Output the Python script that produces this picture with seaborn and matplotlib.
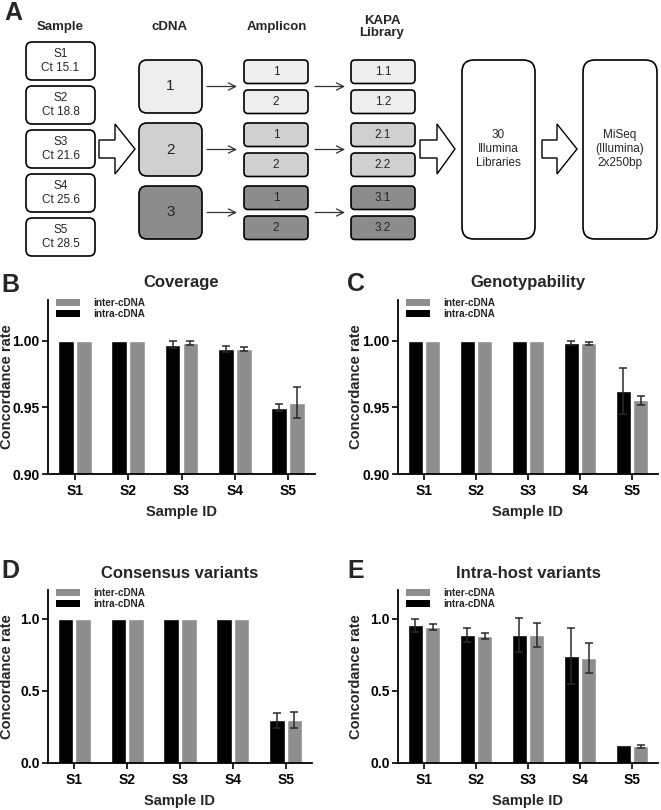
import matplotlib
matplotlib.use("Agg")
import matplotlib.pyplot as plt
from matplotlib.patches import FancyBboxPatch, Polygon, Patch
import numpy as np
import pandas as pd
import seaborn as sns

# ---------------------------------------------------------------- data
samples = ["S1", "S2", "S3", "S4", "S5"]
groups = ["intra-cDNA", "inter-cDNA"]

cov_intra = [1.000, 1.000, 0.997, 0.9937, 0.9497]
cov_intra_err = [0, 0, 0.0025, 0.002, 0.0025]
cov_inter = [1.000, 1.000, 0.998, 0.994, 0.9535]
cov_inter_err = [0, 0, 0.0015, 0.0015, 0.0115]

geno_intra = [1.000, 1.000, 1.000, 0.998, 0.9624]
geno_intra_err = [0, 0, 0, 0.0015, 0.017]
geno_inter = [1.000, 1.000, 1.000, 0.998, 0.9553]
geno_inter_err = [0, 0, 0, 0.0012, 0.0035]

cons_intra = [1.0, 1.0, 1.0, 1.0, 0.296]
cons_intra_err = [0, 0, 0, 0, 0.05]
cons_inter = [1.0, 1.0, 1.0, 1.0, 0.300]
cons_inter_err = [0, 0, 0, 0, 0.055]

host_intra = [0.956, 0.887, 0.889, 0.744, 0.124]
host_intra_err = [0.044, 0.047, 0.118, 0.194, 0]
host_inter = [0.943, 0.880, 0.890, 0.730, 0.115]
host_inter_err = [0.020, 0.023, 0.083, 0.104, 0.012]

# schematic text
ct_values = ["15.1", "18.8", "21.6", "25.6", "28.5"]
cdna_labels = ["1", "2", "3"]
amplicon_labels = ["1", "2"]
library_labels = [["1.1", "1.2"], ["2.1", "2.2"], ["3.1", "3.2"]]
shades = ["#eeeeee", "#d0d0d0", "#8c8c8c"]

BLACK = "#000000"
GRAY = "#8e8e8e"
ERR = "#2a2a2a"

sns.set_style("ticks")
plt.rcParams["font.family"] = ["Liberation Sans", "DejaVu Sans"]

W, H = 661, 810
fig = plt.figure(figsize=(W / 100, H / 100), dpi=100)

# --------------------------------------------------------------------------- #
# Panel A: workflow schematic, drawn in pixel coordinates
# --------------------------------------------------------------------------- #
sch = fig.add_axes([0, 0, 1, 1], zorder=0)
sch.set_xlim(0, W)
sch.set_ylim(H, 0)
sch.axis("off")


def rbox(x0, y0, x1, y1, fc="white", r=6, lw=1.2):
    sch.add_patch(FancyBboxPatch((x0, y0), x1 - x0, y1 - y0,
                                 boxstyle=f"round,pad=0,rounding_size={r}",
                                 fc=fc, ec="black", lw=lw))


def hollow_arrow(x0, xh, xt, yc, hs=9, hh=25):
    pts = [(x0, yc - hs), (xh, yc - hs), (xh, yc - hh), (xt, yc),
           (xh, yc + hh), (xh, yc + hs), (x0, yc + hs)]
    sch.add_patch(Polygon(pts, closed=True, fc="white", ec="black", lw=1.0))


def thin_arrow(x0, x1, y):
    sch.annotate("", xy=(x1, y), xytext=(x0, y),
                 arrowprops=dict(arrowstyle="->", lw=0.9, color="#333333",
                                 mutation_scale=13, shrinkA=0, shrinkB=0))


fig.text(4 / W, 1 - 13 / H, "A", fontsize=18, fontweight="bold", va="center")
hdr = dict(fontsize=9.5, fontweight="bold", ha="center", va="center")
sch.text(60, 27, "Sample", **hdr)
sch.text(170, 27, "cDNA", **hdr)
sch.text(277, 27, "Amplicon", **hdr)
sch.text(382, 27, "KAPA\nLibrary", linespacing=1.1, **hdr)

for i, (s, ct) in enumerate(zip(samples, ct_values)):
    y0 = 42 + i * 44
    rbox(26, y0, 95, y0 + 38)
    sch.text(60.5, y0 + 19, f"{s}\nCt {ct}", fontsize=8.5, ha="center",
             va="center", linespacing=1.15)

hollow_arrow(99, 115, 135, 149)

for g, lab in enumerate(cdna_labels):
    y0 = 60 + g * 63
    yc = y0 + 26.5
    rbox(139, y0, 202, y0 + 53, fc=shades[g], r=8)
    sch.text(170.5, yc, lab, fontsize=11, ha="center", va="center")
    thin_arrow(207, 237, yc)
    thin_arrow(315, 345, yc)
    for k, alab in enumerate(amplicon_labels):
        b0 = y0 + k * 30
        rbox(244, b0, 308, b0 + 23.5, fc=shades[g], r=4)
        sch.text(276, b0 + 12, alab, fontsize=8.5, ha="center", va="center")
        rbox(351, b0, 415, b0 + 23.5, fc=shades[g], r=4)
        sch.text(383, b0 + 12, library_labels[g][k], fontsize=8.5,
                 ha="center", va="center")

hollow_arrow(420, 437, 455, 149)
rbox(462, 60, 535, 239, r=12)
sch.text(498.5, 149, "30\nIllumina\nLibraries", fontsize=8.5, ha="center",
         va="center", linespacing=1.2)
hollow_arrow(542, 557, 577, 149)
rbox(583, 60, 657, 239, r=12)
sch.text(620, 149, "MiSeq\n(Illumina)\n2x250bp", fontsize=8.5, ha="center",
         va="center", linespacing=1.2)


# --------------------------------------------------------------------------- #
# Panels B-E: concordance bar charts
# --------------------------------------------------------------------------- #
def px_axes(left, top, right, bottom):
    return fig.add_axes([left / W, 1 - bottom / H, (right - left) / W,
                         (bottom - top) / H], zorder=2)


def bar_panel(ax, title, intra, intra_err, inter, inter_err, ylim, yticks, fmt,
              ylab_x):
    df = pd.DataFrame({
        "sample": samples * 2,
        "group": [groups[0]] * 5 + [groups[1]] * 5,
        "value": list(intra) + list(inter),
    })
    sns.barplot(data=df, x="sample", y="value", hue="group", hue_order=groups,
                palette=[BLACK, GRAY], width=0.67, gap=0.12, errorbar=None,
                saturation=1, legend=False, ax=ax)
    for cont, vals, errs in zip(ax.containers, [intra, inter],
                                [intra_err, inter_err]):
        for bar, v, e in zip(cont, vals, errs):
            if e > 0:
                ax.errorbar(bar.get_x() + bar.get_width() / 2, v, yerr=e,
                            fmt="none", ecolor=ERR, elinewidth=1.1,
                            capsize=3, capthick=1.1, zorder=3)
    ax.set_ylim(*ylim)
    ax.set_xlim(-0.5, 4.5)
    ax.set_yticks(yticks)
    ax.set_yticklabels([fmt.format(t) for t in yticks])
    ax.set_title(title, fontsize=12, fontweight="bold", pad=9)
    ax.set_xlabel("Sample ID", fontsize=10.5, fontweight="bold")
    ax.set_ylabel("Concordance rate", fontsize=10.5, fontweight="bold")
    ax.xaxis.set_label_coords(0.5, -0.18)
    ax.yaxis.set_label_coords(ylab_x, 0.5)
    for lab in ax.get_xticklabels() + ax.get_yticklabels():
        lab.set_fontweight("bold")
    ax.tick_params(axis="both", labelsize=10, length=4, width=1.2,
                   color="black", labelcolor="black", direction="out")
    ax.tick_params(axis="x", pad=3)
    ax.tick_params(axis="y", pad=2)
    sns.despine(ax=ax)
    for sp in ("left", "bottom"):
        ax.spines[sp].set_linewidth(1.3)
        ax.spines[sp].set_color("black")
    handles = [Patch(fc=GRAY, ec="none", label=groups[1]),
               Patch(fc=BLACK, ec="none", label=groups[0])]
    ax.legend(handles=handles, loc="upper left", bbox_to_anchor=(0.03, 1.01),
              frameon=False, prop={"size": 7.2, "weight": "bold"},
              handlelength=2.4, handleheight=0.75, labelspacing=0.1,
              handletextpad=1.3, borderaxespad=0, borderpad=0)


axB = px_axes(48, 300, 315, 474)
bar_panel(axB, "Coverage", cov_intra, cov_intra_err, cov_inter, cov_inter_err,
          (0.90, 1.0306), [0.90, 0.95, 1.00], "{:.2f}", -0.128)
axC = px_axes(398, 300, 658, 474)
bar_panel(axC, "Genotypability", geno_intra, geno_intra_err, geno_inter,
          geno_inter_err, (0.90, 1.0306), [0.90, 0.95, 1.00], "{:.2f}", -0.135)
axD = px_axes(48, 590, 312, 763)
bar_panel(axD, "Consensus variants", cons_intra, cons_intra_err, cons_inter,
          cons_inter_err, (0.0, 1.2), [0.0, 0.5, 1.0], "{:.1f}", -0.13)
axE = px_axes(398, 590, 658, 763)
bar_panel(axE, "Intra-host variants", host_intra, host_intra_err, host_inter,
          host_inter_err, (0.0, 1.2), [0.0, 0.5, 1.0], "{:.1f}", -0.135)

for letter, x, y in [("B", 1, 285), ("C", 347, 284), ("D", 1, 571), ("E", 347, 571)]:
    fig.text(x / W, 1 - y / H, letter, fontsize=18, fontweight="bold",
             va="center", ha="left")

fig.savefig("out.png", dpi=100)
